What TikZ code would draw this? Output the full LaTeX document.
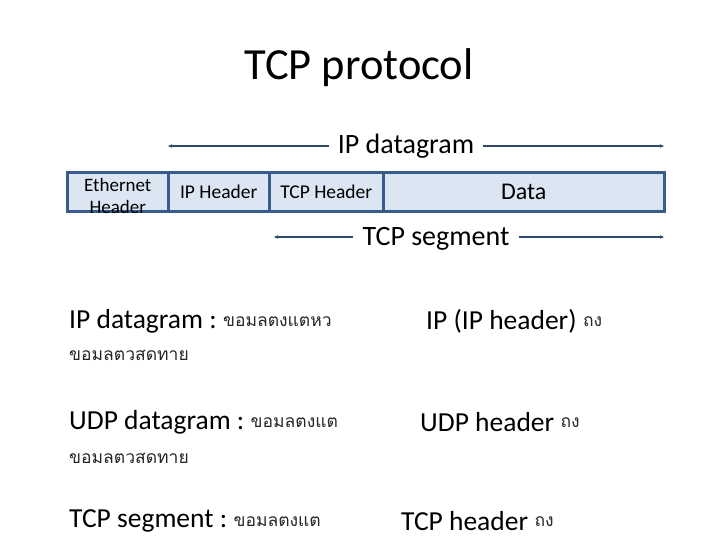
\documentclass[tikz,border=0pt]{standalone}
\usepackage{fontspec}
\setmainfont{Carlito}
\newfontfamily\thaifont[Script=Thai]{Loma}
\usetikzlibrary{arrows.meta}
\definecolor{cellborder}{HTML}{385D8A}
\definecolor{cellfill}{HTML}{DCE6F2}
\definecolor{arrowcol}{HTML}{2F4A6E}
\tikzset{
  cell/.style={draw=cellborder, fill=cellfill, line width=2.5pt, minimum height=39pt, inner sep=0pt, anchor=south west, font=\fontsize{19.5}{19.5}\selectfont},
  lbl/.style={inner xsep=9pt, inner ysep=2pt, font=\fontsize{28}{28}\selectfont},
  body/.style={inner sep=0pt, anchor=west, font=\fontsize{27.5}{27.5}\selectfont},
  thaibody/.style={inner sep=0pt, anchor=west, text=black!85, font=\thaifont\fontsize{17.5}{17.5}\selectfont},
  span/.style={draw=arrowcol, line width=1.3pt, -{Stealth[length=4pt,width=3.5pt]}}
}
\begin{document}
\begin{tikzpicture}[x=1pt,y=1pt]
\useasboundingbox (0,0) rectangle (720,540);
% title
\node[inner sep=0pt, font=\fontsize{44.5}{44.5}\selectfont] (title) at (359,472) {TCP protocol};
% bar cells
\node[cell, minimum width=101pt] (eth) at (66,327) {};
\node[font=\fontsize{19}{22}\selectfont, align=center, inner sep=0pt] (ethtxt) at ([yshift=-4pt]eth.center) {Ethernet\\Header};
\node[cell, minimum width=101pt] (iph) at (167,327) {IP Header};
\node[cell, minimum width=114pt] (tcph) at (268,327) {TCP Header};
\node[cell, minimum width=281pt, font=\fontsize{24}{24}\selectfont] (data) at (382,327) {Data};
% IP datagram span
\node[lbl] (ipd) at (406,394) {IP datagram};
\coordinate (ipdL) at (168,394);
\coordinate (ipdR) at (664,394);
\draw[span] (ipd.west) -- (ipdL);
\draw[span] (ipd.east) -- (ipdR);
% TCP segment span
\node[lbl] (tcps) at (436,301) {TCP segment};
\coordinate (tcpsL) at (274,303);
\coordinate (tcpsR) at (664,303);
\draw[span] ([yshift=2pt]tcps.west) -- (tcpsL);
\draw[span] ([yshift=2pt]tcps.east) -- (tcpsR);
% body text
\node[body] (b1) at (69,219) {IP datagram :};
\node[thaibody] (b1t) at ([xshift=6pt,yshift=-1pt]b1.east) {ขอมลตงแตหว};
\node[body] (b1r) at (426,219) {IP (IP header)};
\node[thaibody] (b1rt) at ([xshift=6pt,yshift=-1pt]b1r.east) {ถง};
\node[thaibody] (b2) at (69,185) {ขอมลตวสดทาย};
\node[body] (b3) at (69,118) {UDP datagram :};
\node[thaibody] (b3t) at ([xshift=6pt,yshift=-1pt]b3.east) {ขอมลตงแต};
\node[body] (b3r) at (420,118) {UDP header};
\node[thaibody] (b3rt) at ([xshift=6pt,yshift=-1pt]b3r.east) {ถง};
\node[thaibody] (b4) at (69,82) {ขอมลตวสดทาย};
\node[body] (b5) at (69,19) {TCP segment :};
\node[thaibody] (b5t) at ([xshift=6pt,yshift=-1pt]b5.east) {ขอมลตงแต};
\node[body] (b5r) at (401,19) {TCP header};
\node[thaibody] (b5rt) at ([xshift=6pt,yshift=-1pt]b5r.east) {ถง};
\end{tikzpicture}
\end{document}
